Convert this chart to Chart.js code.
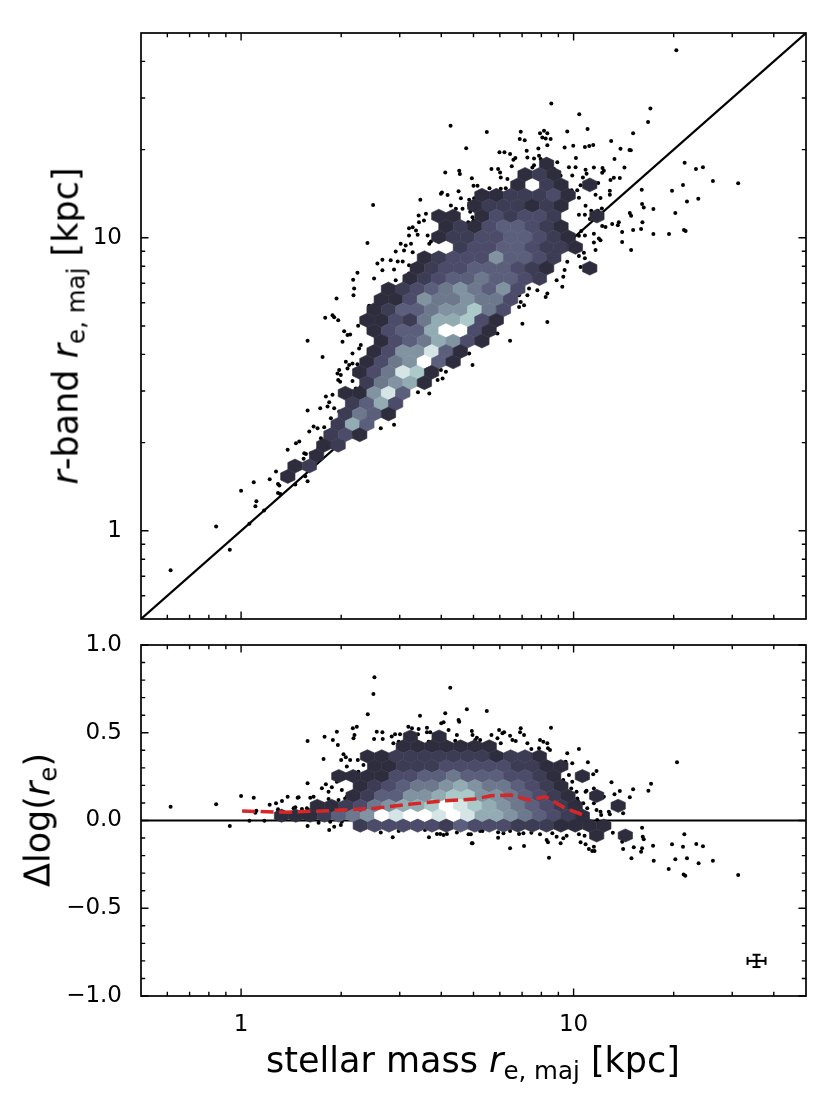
<!DOCTYPE html>
<html>
<head>
<meta charset="utf-8">
<script src="https://cdn.jsdelivr.net/npm/chart.js@4.4.1/dist/chart.umd.min.js"></script>
<style>
  html, body { margin: 0; padding: 0; background: #fff; }
  #wrap { position: relative; width: 830px; height: 1107px; font-family: 'DejaVu Sans', sans-serif; color: #000; }
  canvas { position: absolute; left: 0; }
  .lab { position: absolute; font-size: 35px; line-height: 1; white-space: nowrap; }
  .lab sub { font-size: 70%; vertical-align: baseline; position: relative; top: 0.3em; }
  .rot { transform: translate(-50%, -50%) rotate(-90deg); }
</style>
</head>
<body>
<div id="wrap">
  <canvas id="topChart" width="830" height="646" style="top:0;width:830px;height:646px"></canvas>
  <canvas id="bottomChart" width="830" height="488" style="top:619px;width:830px;height:488px"></canvas>
  <div class="lab rot" style="left:66px;top:326px"><i>r</i>-band <i>r</i><sub>e, maj</sub> [kpc]</div>
  <div class="lab rot" style="left:38px;top:820px">Δlog(<i>r</i><sub>e</sub>)</div>
  <div class="lab" style="left:473px;top:1060px;transform:translate(-50%,-50%)">stellar mass <i>r</i><sub>e, maj</sub> [kpc]</div>
</div>
<script>
// individual galaxies, [log10 stellar-mass r_e, log10 r-band r_e]
const topDots = [
  [1.309,1.640],[1.231,1.441],[1.224,1.395],[1.017,1.422],[0.981,1.363],[1.042,1.371],[1.179,1.357],[1.113,1.330],
  [0.973,1.308],[0.999,1.314],[1.034,1.310],[1.047,1.313],[1.059,1.317],[1.141,1.304],[1.168,1.300],[1.172,1.299],
  [1.007,1.272],[1.123,1.269],[1.153,1.240],[1.334,1.256],[1.368,1.235],[1.389,1.241],[1.419,1.194],[1.495,1.186],
  [1.329,1.180],[1.296,1.161],[1.205,1.164],[1.341,1.124],[1.375,1.133],[1.306,1.085],[1.240,1.098],[1.206,1.115],
  [1.211,1.103],[1.169,1.085],[1.173,1.075],[1.332,1.027],[1.337,1.023],[1.287,1.013],[1.240,1.013],[1.207,1.053],
  [1.203,1.030],[1.179,1.027],[1.146,1.020],[1.146,0.986],[1.173,0.958],[1.116,1.047],[1.136,1.053],[1.133,1.043],
  [1.086,1.040],[1.096,1.037],[1.073,1.092],[1.085,1.100],[1.081,1.136],[1.066,1.147],[1.109,1.161],[1.109,1.147],
  [1.074,1.187],[1.061,1.240],[1.087,1.238],[1.086,1.222],[1.091,1.229],[1.036,1.232],[1.039,1.219],[1.028,1.206],
  [1.021,1.179],[1.016,1.137],[0.994,1.162],[1.011,1.162],[0.986,1.241],[1.006,1.241],[0.996,1.213],[1.121,1.205],
  [1.139,1.204],[1.111,1.197],[1.049,1.064],[1.059,1.079],[1.053,1.092],[1.034,1.079],[1.016,1.079],[1.036,1.109],
  [1.076,0.998],[1.081,0.992],[1.061,0.984],[1.066,0.958],[1.061,1.014],[1.023,1.023],[1.016,1.007],[1.034,1.008],
  [1.031,0.949],[1.016,0.938],[1.034,0.930],[0.981,0.918],[0.973,0.890],[0.969,0.867],[0.966,0.833],[1.006,0.958],
  [0.933,1.458],[0.630,1.382],[0.739,1.361],[0.841,1.362],[0.838,1.337],[0.853,1.333],[0.899,1.357],[0.911,1.365],
  [0.921,1.357],[0.906,1.342],[0.916,1.339],[0.931,1.337],[0.677,1.306],[0.859,1.297],[0.894,1.305],[0.921,1.316],
  [0.777,1.292],[0.792,1.292],[0.809,1.286],[0.825,1.272],[0.819,1.266],[0.861,1.274],[0.881,1.271],[0.896,1.280],
  [0.901,1.269],[0.753,1.235],[0.773,1.235],[0.779,1.223],[0.814,1.244],[0.876,1.240],[0.881,1.248],[0.951,1.258],
  [0.941,1.235],[0.946,1.212],[0.961,1.212],[0.614,1.223],[0.656,1.229],[0.658,1.218],[0.694,1.203],[0.711,1.178],
  [0.699,1.178],[0.781,1.206],[0.801,1.201],[0.796,1.169],[0.781,1.167],[0.747,1.169],[0.604,1.155],[0.601,1.150],
  [0.621,1.146],[0.654,1.159],[0.539,1.130],[0.661,1.135],[0.686,1.130],[0.701,1.135],[0.704,1.124],[0.631,1.110],
  [0.646,1.099],[0.666,1.099],[0.686,1.110],[0.689,1.089],[0.696,1.070],[0.683,1.053],[0.699,1.059],[0.534,1.076],
  [0.556,1.082],[0.550,1.059],[0.535,1.053],[0.505,1.033],[0.516,1.036],[0.526,1.025],[0.505,1.008],[0.531,1.010],
  [0.561,1.008],[0.571,0.987],[0.566,0.980],[0.480,0.980],[0.495,0.974],[0.511,0.980],[0.490,0.957],[0.516,0.951],
  [0.465,0.953],[0.941,0.951],
  [0.397,1.112],[0.380,0.982],[0.410,0.912],[0.425,0.925],[0.450,0.923],[0.425,0.889],[0.460,0.892],[0.471,0.919],
  [0.486,0.919],[0.350,0.881],[0.337,0.857],[0.340,0.827],[0.338,0.804],[0.400,0.861],[0.430,0.832],[0.465,0.855],
  [0.471,0.832],[0.475,0.821],[0.505,0.878],[0.526,0.900],[0.535,0.895],[0.505,0.906],[0.287,0.793],[0.385,0.768],
  [0.405,0.770],[0.412,0.770],[0.253,0.727],[0.275,0.736],[0.280,0.729],[0.292,0.719],[0.200,0.649],[0.245,0.593],
  [0.310,0.681],[0.320,0.668],[0.328,0.670],[0.305,0.645],[0.352,0.700],[0.360,0.634],[0.355,0.622],[0.335,0.605],
  [0.315,0.577],[0.325,0.566],[0.320,0.554],[0.335,0.571],[0.350,0.568],[0.295,0.549],[0.290,0.537],[0.300,0.532],
  [0.292,0.515],[0.298,0.509],[0.335,0.511],[0.345,0.486],[0.360,0.492],[0.255,0.458],[0.275,0.464],[0.265,0.439],
  [0.260,0.424],[0.280,0.418],[0.238,0.418],[0.200,0.411],[0.295,0.407],[0.270,0.384],[0.280,0.371],[0.218,0.356],
  [0.230,0.350],[0.205,0.339],[0.250,0.353],[0.175,0.305],[0.165,0.299],[0.140,0.277],[0.195,0.262],[0.190,0.265],
  [0.210,0.265],[0.240,0.316],[0.245,0.305],[0.696,0.566],[0.721,0.662],[0.716,0.656],[0.771,0.673],[0.809,0.649],
  [0.686,0.605],[0.649,0.583],[0.616,0.543],[0.601,0.549],[0.606,0.520],[0.591,0.515],[0.566,0.469],[0.532,0.473],
  [0.460,0.362],[0.420,0.350],[0.836,0.804],[0.836,0.764],
  [-0.212,-0.135],[-0.075,0.015],[-0.034,-0.065],[0.000,0.137],[0.025,0.024],[0.038,0.166],[0.046,0.101],[0.043,0.084],
  [0.069,0.069],[0.086,0.176],[0.105,0.202],[0.111,0.160],[0.115,0.155],[0.111,0.129],[0.118,0.126],[0.188,0.246],
  [0.200,0.169],[0.193,0.186],[0.163,0.158],
  [0.949,0.855],[0.921,0.810],[0.916,0.798],[0.891,0.821],[0.866,0.827],[0.861,0.804],[0.841,0.781],[0.851,0.770],
  [0.846,0.707],[0.921,0.713],[1.021,0.900]
];

// individual galaxies, [log10 stellar-mass r_e, delta log r_e]
const bottomDots = [
  [-0.212,0.079],[-0.075,0.092],[-0.034,-0.031],[0.000,0.140],[0.025,-0.001],[0.038,0.130],[0.046,0.056],[0.043,0.044],
  [0.070,-0.001],[0.086,0.090],[0.105,0.098],[0.111,0.064],[0.111,0.050],[0.123,0.111],[0.140,0.136],[0.170,0.130],
  [0.173,0.132],[0.158,0.070],[0.163,0.075],[0.183,0.066],[0.198,0.070],[0.203,0.060],[0.200,-0.031],[0.233,-0.013],
  [0.200,0.453],[0.200,0.212],[0.208,0.130],[0.218,0.136],[0.248,0.350],[0.251,0.477],[0.243,0.184],[0.255,0.207],
  [0.263,0.164],[0.263,0.123],[0.273,0.189],[0.276,0.459],[0.288,0.506],[0.291,0.430],[0.301,0.345],[0.303,0.174],
  [0.308,0.377],[0.315,0.360],[0.318,0.307],[0.328,0.345],[0.288,0.221],[0.293,0.117],[0.313,0.126],[0.318,0.136],
  [0.336,0.525],[0.348,0.534],[0.341,0.487],[0.338,0.468],[0.351,0.345],[0.368,0.316],[0.353,0.278],[0.381,0.605],
  [0.398,0.721],[0.401,0.816],[0.408,0.506],[0.425,0.503],[0.400,0.464],[0.426,0.464],[0.268,-0.007],[0.280,-0.035],
  [0.300,-0.026],[0.303,-0.007],[0.265,-0.054],[0.420,-0.069],[0.456,-0.096],[0.474,-0.060],[0.553,-0.054],[0.565,-0.096],
  [0.589,-0.077],[0.599,-0.077],[0.609,-0.083],[0.619,-0.077],[0.649,-0.069],[0.684,-0.079],[0.694,-0.130],[0.719,-0.060],
  [0.453,0.478],[0.463,0.491],[0.478,0.491],[0.458,0.440],[0.474,0.449],[0.503,0.534],[0.514,0.525],[0.534,0.521],
  [0.538,0.597],[0.532,0.491],[0.559,0.529],[0.559,0.503],[0.569,0.503],[0.564,0.449],[0.574,0.417],[0.594,0.402],
  [0.602,0.554],[0.609,0.560],[0.614,0.611],[0.624,0.516],[0.629,0.757],[0.654,0.573],[0.656,0.563],[0.644,0.455],
  [0.649,0.487],[0.679,0.634],[0.694,0.510],[0.696,0.487],[0.704,0.459],[0.714,0.440],[0.719,0.459],
  [0.739,0.624],[0.709,0.472],[0.753,0.487],[0.776,0.516],[0.771,0.469],[0.786,0.497],[0.781,0.440],[0.791,0.503],
  [0.809,0.483],[0.816,0.459],[0.826,0.453],[0.841,0.525],[0.839,0.503],[0.851,0.487],[0.861,0.440],[0.873,0.407],
  [0.899,0.459],[0.909,0.449],[0.921,0.440],[0.932,0.529],[0.929,0.402],[0.923,0.411],[0.896,0.411],
  [0.953,0.312],[0.981,0.383],[0.976,0.335],[0.996,0.326],[1.016,0.407],[1.043,0.332],[1.059,0.263],[1.069,0.282],
  [1.039,0.170],[1.036,0.164],[1.009,0.164],[1.011,0.126],[0.969,0.231],[0.986,0.259],[0.996,0.221],[0.993,0.183],
  [1.061,0.183],[1.091,0.136],[1.114,0.218],[1.123,0.149],[1.139,0.168],[1.169,0.132],[1.179,0.178],[1.225,0.170],
  [1.233,0.210],[1.311,0.332],
  [1.013,0.111],[1.029,0.098],[1.041,0.070],[1.033,0.035],[1.061,0.098],[1.069,0.060],[1.081,0.050],[1.083,0.031],
  [1.106,0.050],[1.109,0.035],[1.149,0.041],[1.071,0.003],
  [0.691,-0.079],[0.696,-0.130],[0.726,-0.060],[0.773,-0.067],[0.773,-0.098],[0.789,-0.073],[0.809,-0.060],[0.809,-0.158],
  [0.836,-0.077],[0.849,-0.073],[0.851,-0.145],[0.873,-0.070],[0.899,-0.079],[0.919,-0.111],[0.923,-0.124],[0.926,-0.212],
  [0.936,-0.073],[0.949,-0.092],[0.961,-0.130],[0.969,-0.101],[0.979,-0.087],[1.016,-0.079],[1.021,-0.124],[1.036,-0.136],
  [1.033,-0.087],[1.046,-0.162],[1.056,-0.174],[1.063,-0.174],[1.061,-0.149],[1.118,-0.070],[1.146,-0.121],[1.149,-0.162],
  [1.174,-0.215],[1.181,-0.153],[1.206,-0.041],[1.208,-0.092],[1.211,-0.107],[1.206,-0.158],[1.203,-0.178],[1.239,-0.144],
  [1.241,-0.229],[1.286,-0.276],[1.296,-0.136],[1.306,-0.221],[1.329,-0.149],[1.333,-0.079],[1.331,-0.307],[1.336,-0.315],
  [1.341,-0.215],[1.369,-0.134],[1.376,-0.244],[1.389,-0.147],[1.419,-0.229],[1.495,-0.311]
];

// hexbin density levels (0 = fewest, 9 = most), one entry per hex row: [first column, levels]
const topHexRows = [
  [19,"0"],[17,"010"],[17,"0.10.0"],[14,"0011120"],[14,"0111010"],[11,"00.021221..0"],
  [12,"010233210"],[11,"0112233210"],[13,"122332110"],[10,"0122253321"],[10,"0122333210..0"],
  [9,"0123343321"],[8,"0123454352"],[7,"0025445442"],[7,"0133455742"],[6,"0021466720"],
  [7,"023369920"],[7,"02346520"],[7,"0255830"],[6,"0245930"],[6,"024870"],[6,"14560"],
  [5,"00583"],[5,"1362"],[5,"1430"],[4,"163"],[4,"120"],[3,"01"],[3,"0"],[1,"01"],[1,"0"]
];
const bottomHexRows = [
  [9,"0.0"],[8,"0000000"],[6,"0011111110110"],[6,"00111222221100"],[4,"0000223343332210.0"],
  [5,"012344565443210"],[5,"0133556775543210.0"],[2,"0012456679876543210..0"],
  [0,"0001345989989866543210"],[5,"122222132221110000"],[22,"0.0"]
];

// running median of the offset
const medianLogX = [0.003, 0.132, 0.264, 0.402, 0.505, 0.604, 0.703, 0.751, 0.811, 0.865, 0.916, 0.970, 1.036];
const medianDelta = [0.054, 0.047, 0.056, 0.070, 0.092, 0.111, 0.122, 0.141, 0.145, 0.117, 0.136, 0.075, 0.026];

// typical uncertainty
const errPoint = [35.5, -0.80];
const errSize = [0.027, 0.035]; // dex in x, value in y

const logMajor = [1, 10];
const logMinor = [0.6, 0.7, 0.8, 0.9, 2, 3, 4, 5, 6, 7, 8, 9, 20, 30, 40];
const deltaMajor = [-1, -0.5, 0, 0.5, 1];
const deltaMinor = [-0.9, -0.8, -0.7, -0.6, -0.4, -0.3, -0.2, -0.1, 0.1, 0.2, 0.3, 0.4, 0.6, 0.7, 0.8, 0.9];

// hex lattice (log10 units; bottom y in delta units)
const topGrid = { x0: 0.0973, dx: 0.04324, y0: 1.2517, dy: -0.03554 };
const bottomGrid = { x0: 0.1215, dx: 0.04309, y0: 0.4786, dy: -0.05641 };
// colormap position for each density level
const levelT = [0.2, 0.27, 0.34, 0.41, 0.49, 0.58, 0.66, 0.76, 0.88, 1.0];

Chart.defaults.font.family = "'DejaVu Sans', sans-serif";
Chart.defaults.color = '#000';

// matplotlib 'bone'
function bone(t) {
  const lerp = (a, b, u) => a + (b - a) * u;
  const r = t < 0.746032 ? lerp(0, 0.652778, t / 0.746032) : lerp(0.652778, 1, (t - 0.746032) / 0.253968);
  const g = t < 0.365079 ? lerp(0, 0.319444, t / 0.365079)
    : t < 0.746032 ? lerp(0.319444, 0.777778, (t - 0.365079) / 0.380953)
    : lerp(0.777778, 1, (t - 0.746032) / 0.253968);
  const b = t < 0.365079 ? lerp(0, 0.444444, t / 0.365079) : lerp(0.444444, 1, (t - 0.365079) / 0.634921);
  return 'rgb(' + Math.round(r * 255) + ',' + Math.round(g * 255) + ',' + Math.round(b * 255) + ')';
}
const levelColor = d => bone(levelT[d]);

function hexCells(rows, g, logY) {
  const out = [];
  rows.forEach(([start, s], r) => {
    for (let i = 0; i < s.length; i++) {
      if (s[i] === '.') continue;
      const lx = g.x0 + g.dx * (start + i + (r % 2 ? 0.5 : 0));
      const yv = g.y0 + g.dy * r;
      out.push({ x: Math.pow(10, lx), y: logY ? Math.pow(10, yv) : yv, level: +s[i] });
    }
  });
  return out;
}

const hexPlugin = {
  id: 'hexCells',
  afterDatasetDraw(chart, args) {
    const ds = chart.data.datasets[args.index];
    if (!ds.hex) return;
    const { ctx, chartArea: a } = chart;
    const xs = chart.scales.x, ys = chart.scales.y;
    const { hw, sh, vh, logY } = ds.hex;
    const X = lx => xs.getPixelForValue(Math.pow(10, lx));
    const Y = v => ys.getPixelForValue(logY ? Math.pow(10, v) : v);
    ctx.save();
    ctx.beginPath();
    ctx.rect(a.left, a.top, a.right - a.left, a.bottom - a.top);
    ctx.clip();
    ds.data.forEach(p => {
      const lx = Math.log10(p.x);
      const yv = logY ? Math.log10(p.y) : p.y;
      const col = levelColor(p.level);
      ctx.beginPath();
      ctx.moveTo(X(lx + hw), Y(yv - sh));
      ctx.lineTo(X(lx + hw), Y(yv + sh));
      ctx.lineTo(X(lx), Y(yv + vh));
      ctx.lineTo(X(lx - hw), Y(yv + sh));
      ctx.lineTo(X(lx - hw), Y(yv - sh));
      ctx.lineTo(X(lx), Y(yv - vh));
      ctx.closePath();
      ctx.fillStyle = col;
      ctx.fill();
      ctx.strokeStyle = col;
      ctx.lineWidth = 0.6;
      ctx.stroke();
    });
    ctx.restore();
  }
};

// box frame with inward ticks on all four sides
const framePlugin = {
  id: 'frameTicks',
  afterDraw(chart, args, opts) {
    const { ctx, chartArea: a } = chart;
    const xs = chart.scales.x, ys = chart.scales.y;
    ctx.save();
    ctx.strokeStyle = '#000';
    ctx.lineWidth = 1.4;
    const xt = (vals, len) => vals.forEach(v => {
      const px = xs.getPixelForValue(v);
      ctx.beginPath();
      ctx.moveTo(px, a.bottom); ctx.lineTo(px, a.bottom - len);
      ctx.moveTo(px, a.top); ctx.lineTo(px, a.top + len);
      ctx.stroke();
    });
    const yt = (vals, len) => vals.forEach(v => {
      const py = ys.getPixelForValue(v);
      ctx.beginPath();
      ctx.moveTo(a.left, py); ctx.lineTo(a.left + len, py);
      ctx.moveTo(a.right, py); ctx.lineTo(a.right - len, py);
      ctx.stroke();
    });
    xt(opts.xMajor, 7.5); xt(opts.xMinor, 4.2);
    yt(opts.yMajor, 7.5); yt(opts.yMinor, 4.2);
    ctx.lineWidth = 1.7;
    ctx.strokeRect(a.left, a.top, a.right - a.left, a.bottom - a.top);
    ctx.restore();
  }
};

const tickFont = { family: "'DejaVu Sans', sans-serif", size: 23 };
const hidden = { grid: { display: false }, border: { display: false } };

new Chart(document.getElementById('topChart'), {
  type: 'scatter',
  data: {
    datasets: [
      { label: 'galaxies', data: topDots.map(([lx, ly]) => ({ x: Math.pow(10, lx), y: Math.pow(10, ly) })),
        pointRadius: 2, pointBackgroundColor: '#000', pointBorderWidth: 0, order: 4 },
      { label: 'one-to-one', data: [{ x: 0.5, y: 0.5 }, { x: 50, y: 50 }], showLine: true,
        borderColor: '#000', borderWidth: 2.2, pointRadius: 0, order: 3 },
      { label: 'density', data: hexCells(topHexRows, topGrid, true), pointRadius: 0, order: 2,
        hex: { hw: topGrid.dx / 2, sh: -topGrid.dy / 3, vh: -topGrid.dy * 2 / 3, logY: true } }
    ]
  },
  options: {
    responsive: false, animation: false, events: [],
    layout: { padding: { top: 33, right: 24, left: 0, bottom: 0 } },
    plugins: {
      legend: { display: false }, tooltip: { enabled: false },
      frameTicks: { xMajor: logMajor, xMinor: logMinor, yMajor: logMajor, yMinor: logMinor }
    },
    scales: {
      x: { type: 'logarithmic', min: 0.5, max: 50, ...hidden, ticks: { display: false },
        afterFit: s => { s.height = 27; } },
      y: { type: 'logarithmic', min: 0.5, max: 50, ...hidden,
        ticks: { font: tickFont, color: '#000', padding: 11, callback: v => String(v) },
        afterBuildTicks: s => { s.ticks = logMajor.map(v => ({ value: v })); },
        afterFit: s => { s.width = 141; } }
    }
  },
  plugins: [hexPlugin, framePlugin]
});

const errLogX = Math.log10(errPoint[0]);
new Chart(document.getElementById('bottomChart'), {
  type: 'scatter',
  data: {
    datasets: [
      { label: 'galaxies', data: bottomDots.map(([lx, d]) => ({ x: Math.pow(10, lx), y: d })),
        pointRadius: 2, pointBackgroundColor: '#000', pointBorderWidth: 0, order: 6 },
      { label: 'zero', data: [{ x: 0.5, y: 0 }, { x: 50, y: 0 }], showLine: true,
        borderColor: '#000', borderWidth: 2.2, pointRadius: 0, order: 5 },
      { label: 'density', data: hexCells(bottomHexRows, bottomGrid, false), pointRadius: 0, order: 4,
        hex: { hw: bottomGrid.dx / 2, sh: -bottomGrid.dy / 3, vh: -bottomGrid.dy * 2 / 3, logY: false } },
      { label: 'median', data: medianLogX.map((lx, i) => ({ x: Math.pow(10, lx), y: medianDelta[i] })),
        showLine: true, borderColor: '#d62728', borderWidth: 3.5, borderDash: [13, 5.5], pointRadius: 0, order: 3 },
      { label: 'xerr', data: [{ x: Math.pow(10, errLogX - errSize[0]), y: errPoint[1] }, { x: Math.pow(10, errLogX + errSize[0]), y: errPoint[1] }],
        showLine: true, borderColor: '#000', borderWidth: 2, pointStyle: 'line', rotation: 90,
        pointRadius: 4, pointBorderWidth: 2, pointBorderColor: '#000', order: 2 },
      { label: 'yerr', data: [{ x: errPoint[0], y: errPoint[1] - errSize[1] }, { x: errPoint[0], y: errPoint[1] + errSize[1] }],
        showLine: true, borderColor: '#000', borderWidth: 2, pointStyle: 'line', rotation: 0,
        pointRadius: 4, pointBorderWidth: 2, pointBorderColor: '#000', order: 1 }
    ]
  },
  options: {
    responsive: false, animation: false, events: [],
    layout: { padding: { top: 26, right: 24, left: 0, bottom: 0 } },
    plugins: {
      legend: { display: false }, tooltip: { enabled: false },
      frameTicks: { xMajor: logMajor, xMinor: logMinor, yMajor: deltaMajor, yMinor: deltaMinor }
    },
    scales: {
      x: { type: 'logarithmic', min: 0.5, max: 50, ...hidden,
        ticks: { font: tickFont, color: '#000', padding: 7, maxRotation: 0, callback: v => String(v) },
        afterBuildTicks: s => { s.ticks = logMajor.map(v => ({ value: v })); },
        afterFit: s => { s.height = 111; } },
      y: { type: 'linear', min: -1, max: 1, ...hidden,
        ticks: { font: tickFont, color: '#000', padding: 11,
          callback: v => (v < 0 ? '\u2212' : '') + Math.abs(v).toFixed(1) },
        afterBuildTicks: s => { s.ticks = deltaMajor.map(v => ({ value: v })); },
        afterFit: s => { s.width = 141; } }
    }
  },
  plugins: [hexPlugin, framePlugin]
});
</script>
</body>
</html>
